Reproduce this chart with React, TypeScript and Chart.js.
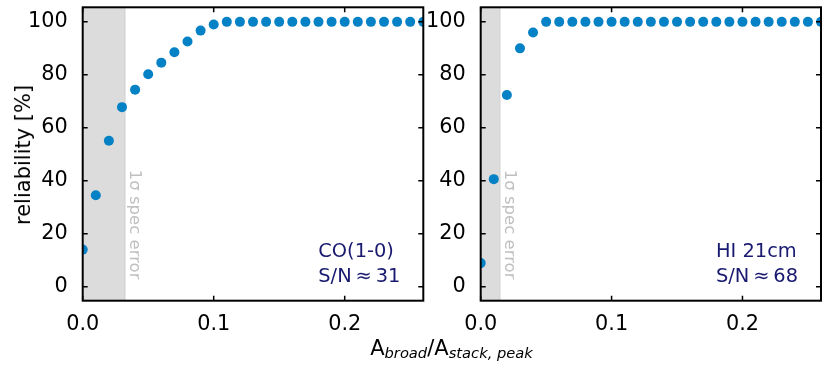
import React, { useEffect, useRef } from "react";
import { Chart, registerables } from "chart.js";

Chart.register(...registerables);

// ---- data ----
const xValues = [0, 0.01, 0.02, 0.03, 0.04, 0.05, 0.06, 0.07, 0.08, 0.09, 0.1, 0.11, 0.12, 0.13, 0.14, 0.15, 0.16, 0.17, 0.18, 0.19, 0.2, 0.21, 0.22, 0.23, 0.24, 0.25, 0.26];
const reliabilityCO = [14.0, 34.5, 55.1, 67.8, 74.4, 80.2, 84.6, 88.5, 92.6, 96.7, 99.0, 100, 100, 100, 100, 100, 100, 100, 100, 100, 100, 100, 100, 100, 100, 100, 100];
const reliabilityHI = [8.9, 40.6, 72.4, 90.0, 96.0, 100, 100, 100, 100, 100, 100, 100, 100, 100, 100, 100, 100, 100, 100, 100, 100, 100, 100, 100, 100, 100, 100];
const xTicks = [0, 0.1, 0.2];
const yTicks = [0, 20, 40, 60, 80, 100];
const xRange = [0, 0.26];
const yRange = [-5.3, 105.5];
const shadeCO = 0.0323;
const shadeHI = 0.0147;
const labelCO = ["CO(1-0)", "S/N\u2009\u2248\u200931"];
const labelHI = ["HI 21cm", "S/N\u2009\u2248\u200968"];
const spanLabel = "1\u03c3 spec error";
const yTitle = "reliability [%]";

const FONT = "'DejaVu Sans', sans-serif";
const W = 831;
const H = 369;

const panelPlugin = {
  id: "panelDeco",
  beforeDatasetsDraw(chart: any, _args: any, opts: any) {
    const { ctx, chartArea: a, scales } = chart;
    const x = scales.x;
    const x0 = x.getPixelForValue(0);
    const x1 = x.getPixelForValue(opts.shade);
    ctx.save();
    ctx.fillStyle = "#dcdcdc";
    ctx.fillRect(x0, a.top, x1 - x0, a.bottom - a.top);
    ctx.strokeStyle = "#d0d0d0";
    ctx.lineWidth = 1;
    ctx.beginPath();
    ctx.moveTo(x1, a.top);
    ctx.lineTo(x1, a.bottom);
    ctx.stroke();
    ctx.translate(x1 + 1.5, a.top + 162.5);
    ctx.rotate(Math.PI / 2);
    ctx.font = `16.5px ${FONT}`;
    ctx.fillStyle = "#c0c0c0";
    ctx.textAlign = "left";
    ctx.textBaseline = "bottom";
    ctx.fillText(spanLabel, 0, 0);
    ctx.restore();
  },
  afterDatasetsDraw(chart: any, _args: any, opts: any) {
    const { ctx, chartArea: a, scales } = chart;
    const x = scales.x;
    const y = scales.y;
    ctx.save();
    ctx.strokeStyle = "#000";
    ctx.lineWidth = 1.5;
    ctx.beginPath();
    for (const t of xTicks) {
      const px = x.getPixelForValue(t);
      ctx.moveTo(px, a.bottom);
      ctx.lineTo(px, a.bottom - 5);
      ctx.moveTo(px, a.top);
      ctx.lineTo(px, a.top + 5);
    }
    for (const t of yTicks) {
      const py = y.getPixelForValue(t);
      ctx.moveTo(a.left, py);
      ctx.lineTo(a.left + 5, py);
      ctx.moveTo(a.right, py);
      ctx.lineTo(a.right - 5, py);
    }
    ctx.stroke();
    ctx.lineWidth = 2;
    ctx.strokeRect(a.left, a.top, a.right - a.left, a.bottom - a.top);
    ctx.font = `19.4px ${FONT}`;
    ctx.fillStyle = "#191970";
    ctx.textAlign = "left";
    ctx.textBaseline = "alphabetic";
    ctx.fillText(opts.lines[0], a.right - 105, a.bottom - 44);
    ctx.fillText(opts.lines[1], a.right - 105, a.bottom - 19);
    ctx.restore();
  },
};

function makeConfig(values: number[], shade: number, lines: string[], padLeft: number, padRight: number): any {
  return {
    type: "scatter",
    data: {
      datasets: [
        {
          data: xValues.map((xv, i) => ({ x: xv, y: values[i] })),
          backgroundColor: "#0581c5",
          borderWidth: 0,
          pointRadius: 5,
          pointHoverRadius: 5,
          clip: 0,
        },
      ],
    },
    options: {
      responsive: false,
      animation: false,
      events: [],
      layout: { padding: { left: padLeft, right: padRight, top: 7.3, bottom: 0 } },
      plugins: {
        legend: { display: false },
        tooltip: { enabled: false },
        panelDeco: { shade, lines },
      },
      scales: {
        x: {
          type: "linear",
          min: xRange[0],
          max: xRange[1],
          grid: { display: false },
          border: { display: false },
          ticks: {
            color: "#000",
            font: { family: FONT, size: 20.8 },
            padding: 3,
            maxRotation: 0,
            callback: (v: number) => v.toFixed(1),
          },
          afterBuildTicks: (s: any) => {
            s.ticks = xTicks.map((v) => ({ value: v }));
          },
          afterFit: (s: any) => {
            s.height = H - 300.7;
            s.paddingLeft = 0;
            s.paddingRight = 0;
          },
        },
        y: {
          type: "linear",
          min: yRange[0],
          max: yRange[1],
          grid: { display: false },
          border: { display: false },
          ticks: {
            color: "#000",
            font: { family: FONT, size: 20.8 },
            padding: 7,
            callback: (v: number) => String(v),
          },
          afterBuildTicks: (s: any) => {
            s.ticks = yTicks.map((v) => ({ value: v }));
          },
          afterFit: (s: any) => {
            s.width = 82.7;
            s.paddingTop = 0;
            s.paddingBottom = 0;
          },
        },
      },
    },
    plugins: [panelPlugin],
  };
}

export default function App() {
  const refA = useRef<HTMLCanvasElement>(null);
  const refB = useRef<HTMLCanvasElement>(null);

  useEffect(() => {
    document.body.style.margin = "0";
    const cA = new Chart(refA.current as HTMLCanvasElement, makeConfig(reliabilityCO, shadeCO, labelCO, 0, W - 423.3));
    const cB = new Chart(refB.current as HTMLCanvasElement, makeConfig(reliabilityHI, shadeHI, labelHI, 480.7 - 82.7, W - 821));
    return () => {
      cA.destroy();
      cB.destroy();
    };
  }, []);

  const canvasStyle: React.CSSProperties = { position: "absolute", left: 0, top: 0, width: W, height: H };

  return (
    <div style={{ position: "fixed", left: 0, top: 0, width: W, height: H, background: "#fff", fontFamily: FONT, overflow: "hidden" }}>
      <canvas ref={refA} width={W} height={H} style={canvasStyle} />
      <canvas ref={refB} width={W} height={H} style={canvasStyle} />
      <div
        style={{
          position: "absolute",
          left: 23,
          top: 154.5,
          transform: "translate(-50%, -50%) rotate(-90deg)",
          whiteSpace: "nowrap",
          fontSize: 21,
          lineHeight: "24px",
          color: "#000",
        }}
      >
        {yTitle}
      </div>
      <div
        style={{
          position: "absolute",
          left: 451.5,
          top: 335.8,
          transform: "translateX(-50%)",
          whiteSpace: "nowrap",
          fontSize: 21,
          lineHeight: "24px",
          color: "#000",
        }}
      >
        A<span style={{ fontSize: 14.7, fontStyle: "italic", position: "relative", top: 3 }}>broad</span>/A
        <span style={{ fontSize: 14.7, fontStyle: "italic", position: "relative", top: 3 }}>stack, peak</span>
      </div>
    </div>
  );
}
